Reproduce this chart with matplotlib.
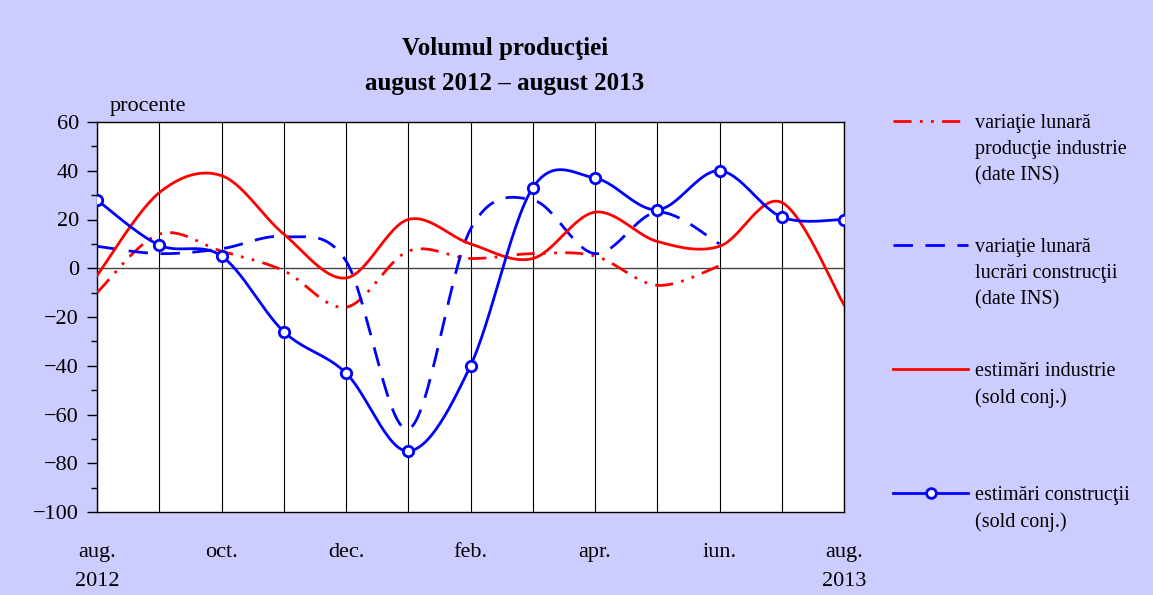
import numpy as np
import matplotlib.pyplot as plt
from matplotlib.lines import Line2D

plt.rcParams["font.family"] = ["Liberation Serif", "DejaVu Serif"]

# ===================== data =====================
MONTHS = ["aug.", "sep.", "oct.", "nov.", "dec.", "ian.", "feb.",
          "mar.", "apr.", "mai", "iun.", "iul.", "aug."]
TICK_LABELS = ["aug.\n2012", "", "oct.", "", "dec.", "", "feb.",
               "", "apr.", "", "iun.", "", "aug.\n2013"]

var_industrie = [-10, 14, 7, -1, -16, 7, 4, 6, 5, -7, 1]
var_constructii = [9, 6, 8, 13, 3, -66, 16, 28, 6, 23, 10]
est_industrie = [-3, 31, 38, 14, -4, 20, 10, 4, 23, 11, 9, 27, -15]
est_constructii = [28, 9.5, 5, -26, -43, -75, -40, 33, 37, 24, 40, 21, 20]

BG = "#CCCCFF"
RED = "#FF0000"
BLUE = "#0000FF"


def smooth(y, n=30):
    # bezier curve through the points, catmull-rom style (like excel smoothing)
    x = np.arange(len(y), dtype=float)
    y = np.asarray(y, dtype=float)
    pts = np.column_stack([x, y])
    ext = np.vstack([pts[0], pts, pts[-1]])
    out = []
    t = np.linspace(0, 1, n)[:, None]
    for i in range(len(pts) - 1):
        p0, p1, p2, p3 = ext[i], ext[i + 1], ext[i + 2], ext[i + 3]
        c1 = p1 + (p2 - p0) / 6
        c2 = p2 - (p3 - p1) / 6
        seg = ((1 - t) ** 3) * p1 + 3 * ((1 - t) ** 2) * t * c1 \
            + 3 * (1 - t) * t ** 2 * c2 + t ** 3 * p2
        out.append(seg if i == 0 else seg[1:])
    out = np.vstack(out)
    return out[:, 0], out[:, 1]


fig = plt.figure(figsize=(11.53, 5.95), dpi=100, facecolor=BG)
ax = fig.add_axes([97 / 1153, 1 - 512 / 595, (844 - 97) / 1153, (512 - 122) / 595])
ax.set_facecolor("white")

style_var_ind = dict(color=RED, lw=2, dashes=(6.5, 3, 1, 3, 1, 3))
style_var_con = dict(color=BLUE, lw=2, dashes=(7, 4.5))
style_est_ind = dict(color=RED, lw=2)
style_est_con = dict(color=BLUE, lw=2)

xs, ys = smooth(var_industrie)
ax.plot(xs, ys, **style_var_ind, zorder=3)
xs, ys = smooth(var_constructii)
ax.plot(xs, ys, **style_var_con, zorder=3)
xs, ys = smooth(est_industrie)
ax.plot(xs, ys, **style_est_ind, zorder=3)
xs, ys = smooth(est_constructii)
ax.plot(xs, ys, **style_est_con, zorder=4)
ax.plot(range(len(est_constructii)), est_constructii, ls="none", marker="o",
        ms=7.5, mfc="white", mec=BLUE, mew=2, zorder=5)

ax.axhline(0, color="#444444", lw=1, zorder=2)

ax.set_xlim(0, len(MONTHS) - 1)
ax.set_ylim(-100, 60)
ax.set_xticks(range(len(MONTHS)))
ax.set_xticklabels(TICK_LABELS, fontsize=16)
for lbl in ax.get_xticklabels():
    lbl.set_linespacing(1.75)
ax.tick_params(axis="x", length=0, pad=22)
ax.grid(axis="x", color="black", lw=0.8, zorder=1)

ax.set_yticks(range(-100, 61, 20))
ax.set_yticklabels([str(v).replace("-", "\u2212") for v in range(-100, 61, 20)],
                   fontsize=16)
ax.set_yticks(range(-90, 60, 20), minor=True)
ax.tick_params(axis="y", which="major", length=7, width=1, direction="out", pad=6)
ax.tick_params(axis="y", which="minor", length=4, width=1, direction="out")

for s in ax.spines.values():
    s.set_color("black")
    s.set_linewidth(1)

ax.text(0.017, 1.015, "procente", transform=ax.transAxes, fontsize=16,
        ha="left", va="bottom")

fig.text(505 / 1153, 1 - 66 / 595, "Volumul producţiei\naugust 2012 \u2013 august 2013",
         ha="center", va="center", fontsize=18, fontweight="bold", linespacing=1.7)

# legend, drawn by hand on the right
legend_items = [
    (style_var_ind, None, "variaţie lunară\nproducţie industrie\n(date INS)", 121),
    (style_var_con, None, "variaţie lunară\nlucrări construcţii\n(date INS)", 245),
    (style_est_ind, None, "estimări industrie\n(sold conj.)", 369),
    (style_est_con, "o", "estimări construcţii\n(sold conj.)", 493),
]
for st, mk, label, ypx in legend_items:
    yf = 1 - ypx / 595
    fig.add_artist(Line2D([893 / 1153, 968 / 1153], [yf, yf], transform=fig.transFigure,
                          **st))
    if mk:
        fig.add_artist(Line2D([931 / 1153], [yf], transform=fig.transFigure, ls="none",
                              marker=mk, ms=7, mfc="white", mec=BLUE, mew=2))
    fig.text(975 / 1153, yf + 7 / 595, label, ha="left", va="top", fontsize=14.5,
             linespacing=1.5)

fig.savefig("out.png", dpi=100, facecolor=BG)
